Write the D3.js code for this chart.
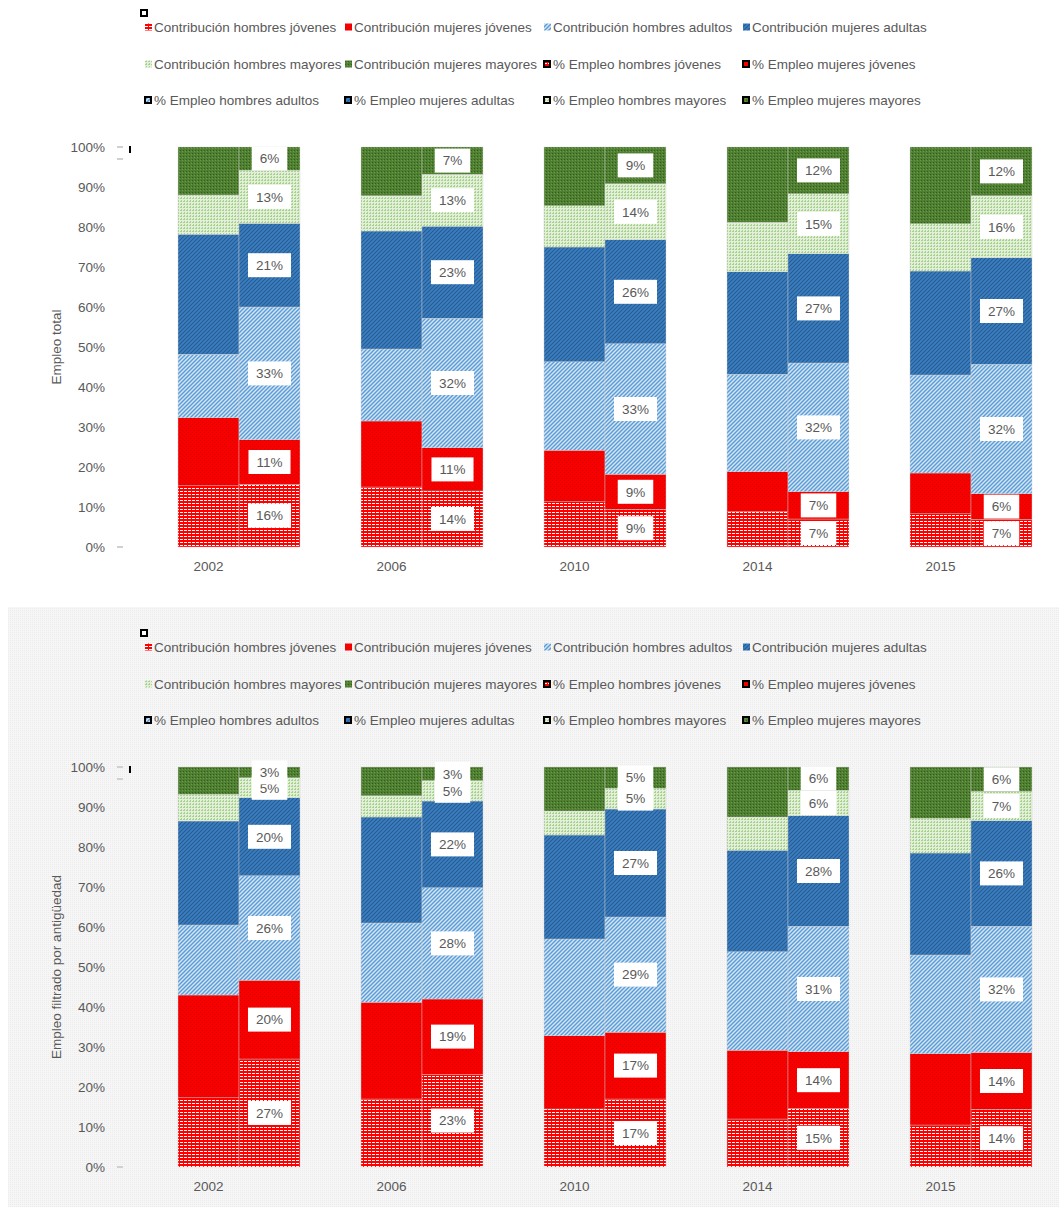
<!DOCTYPE html>
<html lang="es">
<head>
<meta charset="UTF-8">
<title>Empleo</title>
<style>
  body { margin: 0; background: #fff; }
  svg text { font-family: "Liberation Sans", Arial, sans-serif; fill: #595959; }
</style>
</head>
<body>
<div id="chart"></div>
<script src="https://cdn.jsdelivr.net/npm/d3@7"></script>
<script>
// categorias
const years = ["2002", "2006", "2010", "2014", "2015"];
const seriesKeys = ["hj", "mj", "ha", "ma", "hm", "mm"];
const contribNames = ["Contribución hombres jóvenes", "Contribución mujeres jóvenes", "Contribución hombres adultos",
  "Contribución mujeres adultas", "Contribución hombres mayores", "Contribución mujeres mayores"];
const empleoNames = ["% Empleo hombres jóvenes", "% Empleo mujeres jóvenes", "% Empleo hombres adultos",
  "% Empleo mujeres adultas", "% Empleo hombres mayores", "% Empleo mujeres mayores"];
const yTicks = [0, 0.1, 0.2, 0.3, 0.4, 0.5, 0.6, 0.7, 0.8, 0.9, 1];

// Empleo total: una fila por año, orden hj, mj, ha, ma, hm, mm (en %)
const totalContrib = [
  [15.3, 17.0, 15.9, 30.0, 9.8, 12.0],
  [15.0, 16.5, 18.0, 29.5, 8.8, 12.2],
  [11.3, 12.9, 22.1, 28.7, 10.3, 14.7],
  [8.8, 10.0, 24.4, 25.6, 12.4, 18.8],
  [8.3, 10.2, 24.5, 26.0, 11.8, 19.2]
];
const totalEmpleo = [
  [15.7, 11.1, 33.2, 20.9, 13.3, 5.8],
  [14.0, 10.8, 32.4, 23.0, 13.0, 6.8],
  [9.4, 8.8, 32.6, 26.0, 14.0, 9.2],
  [7.0, 6.8, 32.2, 27.3, 15.0, 11.7],
  [6.9, 6.4, 32.4, 26.6, 15.5, 12.2]
];

// Empleo filtrado por antigüedad
const filtContrib = [
  [17.3, 25.7, 17.5, 26.0, 6.7, 6.8],
  [17.0, 24.2, 19.8, 26.5, 5.3, 7.2],
  [14.5, 18.3, 24.2, 26.0, 6.0, 11.0],
  [12.0, 17.2, 24.6, 25.4, 8.3, 12.5],
  [10.5, 17.8, 24.7, 25.5, 8.7, 12.8]
];
const filtEmpleo = [
  [27.0, 19.7, 26.1, 19.5, 5.0, 2.7],
  [23.2, 18.8, 27.8, 21.7, 5.1, 3.4],
  [17.0, 16.7, 28.8, 27.0, 5.2, 5.3],
  [14.6, 14.2, 31.4, 27.6, 6.4, 5.8],
  [14.4, 14.2, 31.6, 26.4, 7.3, 6.1]
];

const W = 1059, H = 1207;
const FS = 13.5;
const svg = d3.select("#chart").append("svg")
  .attr("width", W).attr("height", H);

const defs = svg.append("defs");

// texturas tipo Excel
function makePattern(id, w, h, bg, fn) {
  const p = defs.append("pattern").attr("id", id)
    .attr("patternUnits", "userSpaceOnUse").attr("width", w).attr("height", h);
  p.append("rect").attr("width", w).attr("height", h).attr("fill", bg);
  fn(p);
}
makePattern("p-hj", 4, 3, "#ff0000", p => {
  p.append("rect").attr("x", 0).attr("y", 2).attr("width", 3).attr("height", 1).attr("fill", "#ffffff");
});
makePattern("p-mj", 4, 4, "#f60000", p => {
  p.append("rect").attr("x", 0).attr("y", 0).attr("width", 1).attr("height", 1).attr("fill", "#d80000");
  p.append("rect").attr("x", 2).attr("y", 2).attr("width", 1).attr("height", 1).attr("fill", "#d80000");
});
makePattern("p-ha", 4, 4, "#d4e5f6", p => {
  p.append("path").attr("d", "M-1,5 L5,-1 M-1,1 L1,-1 M3,5 L5,3")
    .attr("stroke", "#5b9bd5").attr("stroke-width", 1.4);
});
makePattern("p-ma", 4, 4, "#3c7ec2", p => {
  p.append("path").attr("d", "M-1,5 L5,-1 M-1,1 L1,-1 M3,5 L5,3")
    .attr("stroke", "#245a8f").attr("stroke-width", 1.1);
});
makePattern("p-hm", 3, 3, "#e3f0d9", p => {
  p.append("rect").attr("x", 0).attr("y", 0).attr("width", 2).attr("height", 1).attr("fill", "#a9d18e");
  p.append("rect").attr("x", 1).attr("y", 2).attr("width", 1).attr("height", 1).attr("fill", "#a9d18e");
});
makePattern("p-mm", 3, 3, "#4f7f30", p => {
  p.append("rect").attr("x", 0).attr("y", 0).attr("width", 1).attr("height", 1).attr("fill", "#375a20");
  p.append("rect").attr("x", 2).attr("y", 1).attr("width", 1).attr("height", 1).attr("fill", "#6a9a48");
});
makePattern("p-bg", 2, 2, "#f6f6f6", p => {
  p.append("rect").attr("width", 1).attr("height", 1).attr("fill", "#ececec");
});

const fillOf = k => "url(#p-" + k + ")";

// fondo del segundo panel
svg.append("rect").attr("x", 8).attr("y", 607).attr("width", W - 8).attr("height", H - 607)
  .attr("fill", "url(#p-bg)");

const x = d3.scaleBand().domain(years).range([147.5, 1062.5]).paddingInner(1 / 3).paddingOuter(1 / 6);
const sub = d3.scaleBand().domain(["contrib", "empleo"]).range([0, x.bandwidth()]);

function drawPanel(top, contrib, empleo, yTitle) {
  const y = d3.scaleLinear().domain([0, 1]).range([top + 547, top + 147]);
  const g = svg.append("g");

  // leyenda
  g.append("rect").attr("x", 141).attr("y", top + 10).attr("width", 6).attr("height", 6)
    .attr("fill", "#fff").attr("stroke", "#000").attr("stroke-width", 2);
  const colX = [145, 345, 544, 743];
  const rowY = [top + 27, top + 64, top + 100];
  const items = contribNames.map((n, i) => ({ name: n, key: seriesKeys[i], empleo: false }))
    .concat(empleoNames.map((n, i) => ({ name: n, key: seriesKeys[i], empleo: true })));
  const li = g.selectAll("g.leg").data(items).enter().append("g")
    .attr("transform", (d, i) => "translate(" + colX[i % 4] + "," + rowY[Math.floor(i / 4)] + ")");
  li.filter(d => !d.empleo).append("rect")
    .attr("x", 0).attr("y", -3.5).attr("width", 7).attr("height", 7).attr("fill", d => fillOf(d.key));
  li.filter(d => d.empleo).append("rect")
    .attr("x", -1).attr("y", -4).attr("width", 8).attr("height", 8).attr("fill", "#000");
  li.filter(d => d.empleo).append("rect")
    .attr("x", 1).attr("y", -2).attr("width", 4).attr("height", 4).attr("fill", d => fillOf(d.key));
  li.append("text").attr("x", 9).attr("y", 4.7).attr("font-size", FS).text(d => d.name);

  // eje y
  const ax = g.append("g").attr("transform", "translate(113,0)")
    .call(d3.axisLeft(y).tickValues(yTicks).tickFormat(d3.format(".0%")).tickSize(0).tickPadding(8));
  ax.select(".domain").remove();
  ax.selectAll("text").attr("font-size", FS).attr("fill", "#595959")
    .attr("font-family", "Liberation Sans, Arial, sans-serif");

  // marcas sueltas junto al eje
  [1, 0.97, 0].forEach(v => {
    g.append("line").attr("x1", 117).attr("x2", 123).attr("y1", y(v)).attr("y2", y(v))
      .attr("stroke", "#d0d0d0").attr("stroke-width", 2);
  });
  g.append("line").attr("x1", 130).attr("x2", 130).attr("y1", y(1) - 1).attr("y2", y(1) + 6)
    .attr("stroke", "#000").attr("stroke-width", 2);

  g.append("text")
    .attr("transform", "translate(61," + y(0.5) + ") rotate(-90)")
    .attr("text-anchor", "middle").attr("font-size", FS).text(yTitle);

  // barras
  function stackRows(rows) {
    const out = [];
    rows.forEach((r, yi) => {
      let acc = 0;
      r.forEach((v, si) => {
        out.push({ year: years[yi], key: seriesKeys[si], pct: v, y0: acc / 100, y1: (acc + v) / 100 });
        acc += v;
      });
    });
    return out;
  }
  const cData = stackRows(contrib);
  const eData = stackRows(empleo);

  g.selectAll("rect.c").data(cData).enter().append("rect")
    .attr("x", d => x(d.year) + sub("contrib"))
    .attr("y", d => y(d.y1))
    .attr("width", sub.bandwidth())
    .attr("height", d => y(d.y0) - y(d.y1))
    .attr("fill", d => fillOf(d.key))
    .attr("stroke", "#cfcfcf").attr("stroke-width", 0.4);

  g.selectAll("rect.e").data(eData).enter().append("rect")
    .attr("x", d => x(d.year) + sub("empleo"))
    .attr("y", d => y(d.y1))
    .attr("width", sub.bandwidth())
    .attr("height", d => y(d.y0) - y(d.y1))
    .attr("fill", d => fillOf(d.key))
    .attr("stroke", "#cfcfcf").attr("stroke-width", 0.4);

  // etiquetas de datos (solo % Empleo)
  const lab = g.selectAll("g.lab").data(eData).enter().append("g")
    .attr("transform", d => "translate(" + (x(d.year) + sub("empleo") + sub.bandwidth() / 2) + "," + y((d.y0 + d.y1) / 2) + ")");
  lab.each(function (d) {
    const s = d3.select(this);
    const t = s.append("text").attr("text-anchor", "middle").attr("y", 4.8)
      .attr("font-size", FS).text(Math.round(d.pct) + "%");
    const tw = t.node().getComputedTextLength();
    s.insert("rect", "text").attr("x", -(tw + 16) / 2).attr("y", -12)
      .attr("width", tw + 16).attr("height", 24).attr("fill", "#fff");
  });

  // eje x (años)
  const xa = g.append("g").attr("transform", "translate(0," + (y(0) + 24) + ")");
  xa.selectAll("text").data(years).enter().append("text")
    .attr("x", d => x(d) + sub("contrib") + sub.bandwidth() / 2)
    .attr("text-anchor", "middle").attr("font-size", FS).text(d => d);
}

drawPanel(0, totalContrib, totalEmpleo, "Empleo total");
drawPanel(620, filtContrib, filtEmpleo, "Empleo filtrado por antigüedad");
</script>
</body>
</html>
